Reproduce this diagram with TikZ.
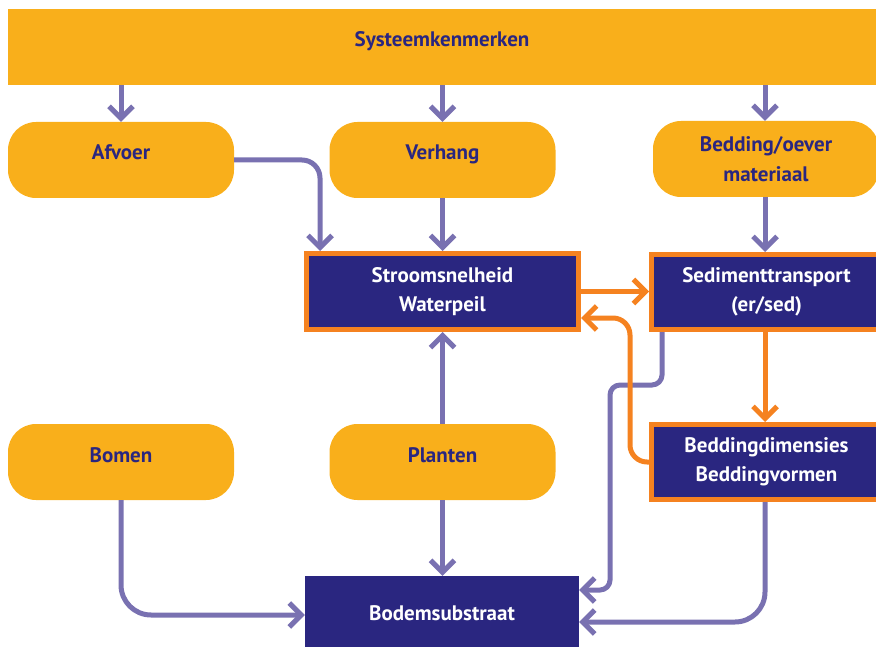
\documentclass[tikz,border=0pt]{standalone}
\usepackage{fontspec}
\setmainfont{PT Sans}
\usetikzlibrary{arrows.meta}

\definecolor{boxorange}{HTML}{F9AF1B}
\definecolor{navy}{HTML}{2A2680}
\definecolor{linkpurple}{HTML}{7971B1}
\definecolor{linkorange}{HTML}{F58220}

\tikzset{
  basebox/.style={inner sep=0pt, align=center, font=\bfseries\fontsize{21}{29.5}\selectfont},
  softbox/.style={basebox, fill=boxorange, text=navy, rounded corners=28pt,
    minimum width=226pt, minimum height=76pt},
  oneline/.style={text height=10pt, text depth=10pt},
  corebox/.style={basebox, fill=navy, text=white, draw=linkorange, line width=5pt},
  plainbox/.style={basebox, fill=navy, text=white},
  link/.style={line width=5pt, -{Straight Barb[length=12pt,width=24pt]}},
  plink/.style={link, draw=linkpurple},
  olink/.style={link, draw=linkorange},
}

\begin{document}
\begin{tikzpicture}[x=1pt, y=-1pt]
\useasboundingbox (0,0) rectangle (876,647);

% top banner
\node[basebox, oneline, fill=boxorange, text=navy, minimum width=868pt, minimum height=76pt]
  (top) at (442,47) {Systeemkenmerken};

% first row of driving factors (the right column runs past the page edge)
\node[softbox, oneline] (afvoer)  at (121,160)   {Afvoer};
\node[softbox, oneline] (verhang) at (442.5,160) {Verhang};
\node[softbox]          (bedding) at (766,159)   {Bedding/oever\\materiaal};

% hydraulic and morphological core
\node[corebox, minimum width=272pt, minimum height=76pt] (stroom)   at (442.5,291.5) {Stroomsnelheid\\Waterpeil};
\node[corebox, minimum width=230pt, minimum height=75pt] (sediment) at (766.5,292)   {Sedimenttransport\\(er/sed)};
\node[corebox, minimum width=230pt, minimum height=75pt] (beddim)   at (766.5,462)   {Beddingdimensies\\Beddingvormen};

% vegetation
\node[softbox, oneline] (bomen)   at (121,462)   {Bomen};
\node[softbox, oneline] (planten) at (442.5,462) {Planten};

% substrate
\node[plainbox, minimum width=274pt, minimum height=74pt] (bodem) at (442,613) {Bodemsubstraat};

% banner to first row
\draw[plink] (top.south -| afvoer.north)  -- (afvoer.north);
\draw[plink] (top.south -| verhang.north) -- (verhang.north);
\draw[plink] ([xshift=-1pt]top.south -| bedding.north) -- ([xshift=-1pt]bedding.north);

% first row to core
\draw[plink, rounded corners=18pt] (afvoer.east) -| ([xshift=16pt]stroom.north west);
\draw[plink] (verhang.south) -- (verhang.south |- stroom.north);
\draw[plink] ([xshift=-1pt]bedding.south) -- ([xshift=-1pt]bedding.south |- sediment.north);

% vegetation links
\draw[plink] (planten.north) -- (planten.north |- stroom.south);
\draw[plink] (planten.south) -- (planten.south |- bodem.north);
\draw[plink, rounded corners=30pt] (bomen.south) |- ([yshift=-2pt]bodem.west);

% links into the substrate
\coordinate (sbend) at (610,590);
\draw[plink, rounded corners=10pt] ([xshift=13pt]sediment.south west) -- ++(0,53) -| (sbend) -- (sbend -| bodem.east);
\draw[plink, rounded corners=30pt] ([xshift=-1.5pt]beddim.south) |- ([yshift=-9pt]bodem.east);

% morphological feedback loop
\draw[olink] (stroom.east) -- (stroom.east -| sediment.west);
\draw[olink] ([xshift=-1.5pt]sediment.south) -- ([xshift=-1.5pt]beddim.north);
\coordinate (fbend) at (630,318);
\draw[olink, rounded corners=17pt] (beddim.west) -| (fbend) -- (fbend -| stroom.east);
\end{tikzpicture}
\end{document}
